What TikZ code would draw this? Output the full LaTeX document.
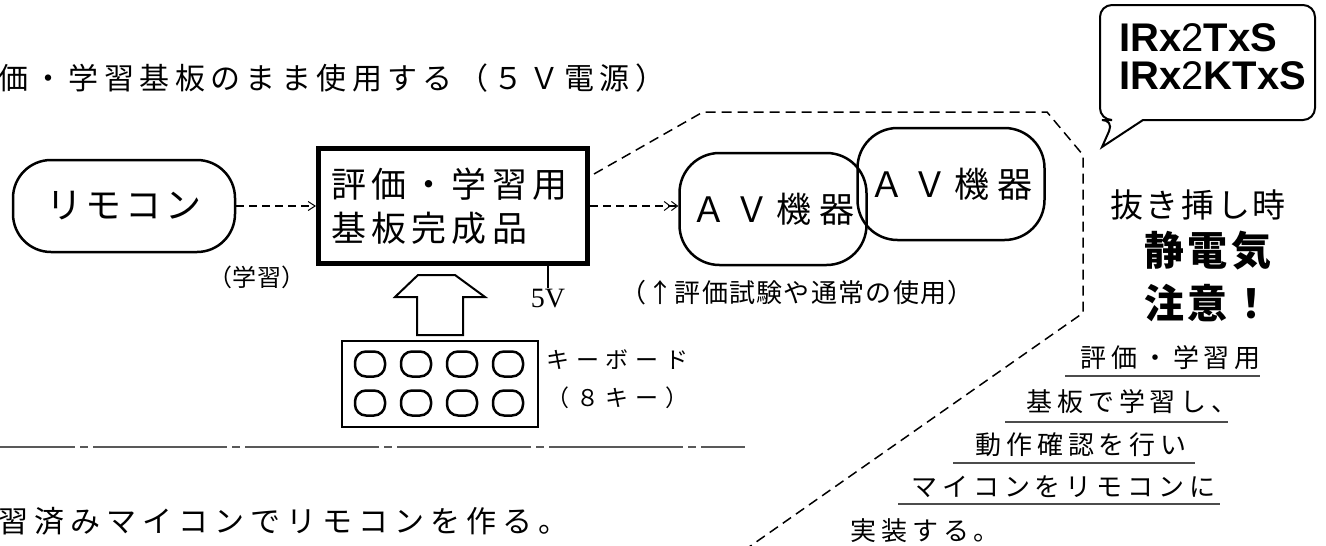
\documentclass[tikz,border=0pt]{standalone}
\usepackage{fontspec}
\setmainfont{Liberation Serif}
\newfontfamily\jp{Noto Sans CJK JP}
\newfontfamily\arl{Liberation Sans}
\usetikzlibrary{arrows.meta,positioning}
\newcommand\jpfont[2]{\jp\fontsize{#1}{#1}\selectfont\addfontfeature{LetterSpace=#2}}
\begin{document}
\begin{tikzpicture}[x=1pt,y=-1pt]
     \tikzstyle{txt}=[inner sep=0pt]
     \tikzstyle{roundnode}=[draw, line width=2.5pt, rounded corners=38pt, minimum width=222pt, minimum height=92pt, inner sep=0pt]
     \tikzstyle{boardnode}=[draw, line width=5pt, minimum width=269pt, minimum height=115pt, text width=244pt, inner xsep=12.5pt, align=left]
     \tikzstyle{avnode}=[draw, line width=2.5pt, rounded corners=40pt, minimum width=187pt, minimum height=112pt, inner sep=0pt]
     \tikzstyle{keynode}=[draw, line width=2.5pt, rounded corners=11pt, minimum width=30pt, minimum height=25pt, inner sep=0pt]
     \tikzstyle{dasharrow}=[line width=1.5pt, dash pattern=on 8pt off 5pt, -{Straight Barb[length=7pt,width=9pt,line width=1pt]}]
     \tikzstyle{zoomline}=[line width=1.5pt, dash pattern=on 10pt off 6pt]
     \tikzstyle{uline}=[line width=2pt, black!70]
     \useasboundingbox (0,0) rectangle (1326,546);
     \node[txt, anchor=west, font=\jpfont{30}{18}] (toptext) at (-2,78) {価・学習基板のまま使用する（５Ｖ電源）};
     \node[roundnode, font=\jpfont{36}{11}] (remocon) at (124,206) {リモコン};
     \node[boardnode, font=\jpfont{35}{15}] (board) at (453,206) {評価・学習用\\[9pt]基板完成品};
     \node[avnode, font=\jpfont{35}{22}] (av1) at (773,209) {ＡＶ機器};
     \node[avnode, font=\jpfont{35}{22}] (av2) at (951,184) {ＡＶ機器};
     \draw[dasharrow] (remocon) -- (board);
     \draw[dasharrow, -{Straight Barb[length=6pt,width=9pt,line width=1pt]Straight Barb[length=6pt,width=9pt,line width=1pt]}] (board.east) -- (board.east -| av1.west);
     \node[txt, font=\jpfont{24}{2}] (learn) at (257,277) {（学習）};
     \node[inner sep=1pt, font=\fontsize{28}{28}\selectfont] (fivev) at (548,299) {5V};
     \draw[line width=2pt] (board.south -| fivev) -- (fivev.north);
     \node[txt, font=\jpfont{26}{5}] (usecap) at (797,293) {（↑評価試験や通常の使用）};
     \draw[line width=2pt] (417,335) -- (417,297) -- (395,297) -- (418,275) -- (455,275) -- (485,297) -- (463,297) -- (463,335) -- cycle;
     \node[draw, line width=2.5pt, minimum width=196pt, minimum height=86pt] (keyboard) at (440,384) {};
     \foreach \i in {0,...,3}
       \foreach \j in {0,1}
         \node[keynode] (key\i\j) at (370+46*\i,364+39*\j) {};
     \node[txt, anchor=west, font=\jpfont{23}{30}] (kbname) at (546,360) {キーボード};
     \node[txt, anchor=west, font=\jpfont{23}{30}] (kbcount) at (546,398) {（８キー）};
     \draw[line width=2pt, black!65, dash pattern=on 134pt off 5pt on 8pt off 5pt, dash phase=59pt] (0,447) -- (745,447);
     \node[txt, anchor=west, font=\jpfont{30}{20}] (bottomtext) at (-2,521) {習済みマイコンでリモコンを作る。};
     \draw[zoomline] (594,174) -- (703,112) -- (1047,112) -- (1083,155) -- (1083,313) -- (749,547);
     \draw[line width=2pt, rounded corners=12pt] (1143,120) -- (1315,120) -- (1315,5) -- (1100,5) -- (1100,120) -- (1114,120) [sharp corners] -- (1102,147) -- cycle;
     \node[txt, anchor=west, align=left, font=\arl\fontsize{40}{38}\selectfont] (partno) at (1119,57) {\textbf{IRx}2\textbf{TxS}\\\textbf{IRx}2\textbf{KTxS}};
     \node[txt, font=\jpfont{33}{8}] (plug) at (1198,205) {抜き挿し時};
     \node[txt, font={\jp\bfseries\fontsize{40}{40}\selectfont\addfontfeature{LetterSpace=9}}] (static) at (1208,251) {静電気};
     \node[txt, font={\jp\bfseries\fontsize{40}{40}\selectfont\addfontfeature{LetterSpace=9}}] (caution) at (1208,303) {注意！};
     \node[txt, anchor=west, font=\jpfont{26}{19}] (note1) at (1080,358) {評価・学習用};
     \node[txt, anchor=west, font=\jpfont{26}{19}] (note2) at (1026,402) {基板で学習し、};
     \node[txt, anchor=west, font=\jpfont{26}{19}] (note3) at (975,445) {動作確認を行い};
     \node[txt, anchor=west, font=\jpfont{26}{19}] (note4) at (911,487) {マイコンをリモコンに};
     \node[txt, anchor=west, font=\jpfont{26}{19}] (note5) at (850,531) {実装する。};
     \draw[uline] (1065,376) -- (1260,376);
     \draw[uline] (1005,422) -- (1228,422);
     \draw[uline] (953,463) -- (1195,463);
     \draw[uline] (898,504) -- (1220,504);
    \end{tikzpicture}
\end{document}
